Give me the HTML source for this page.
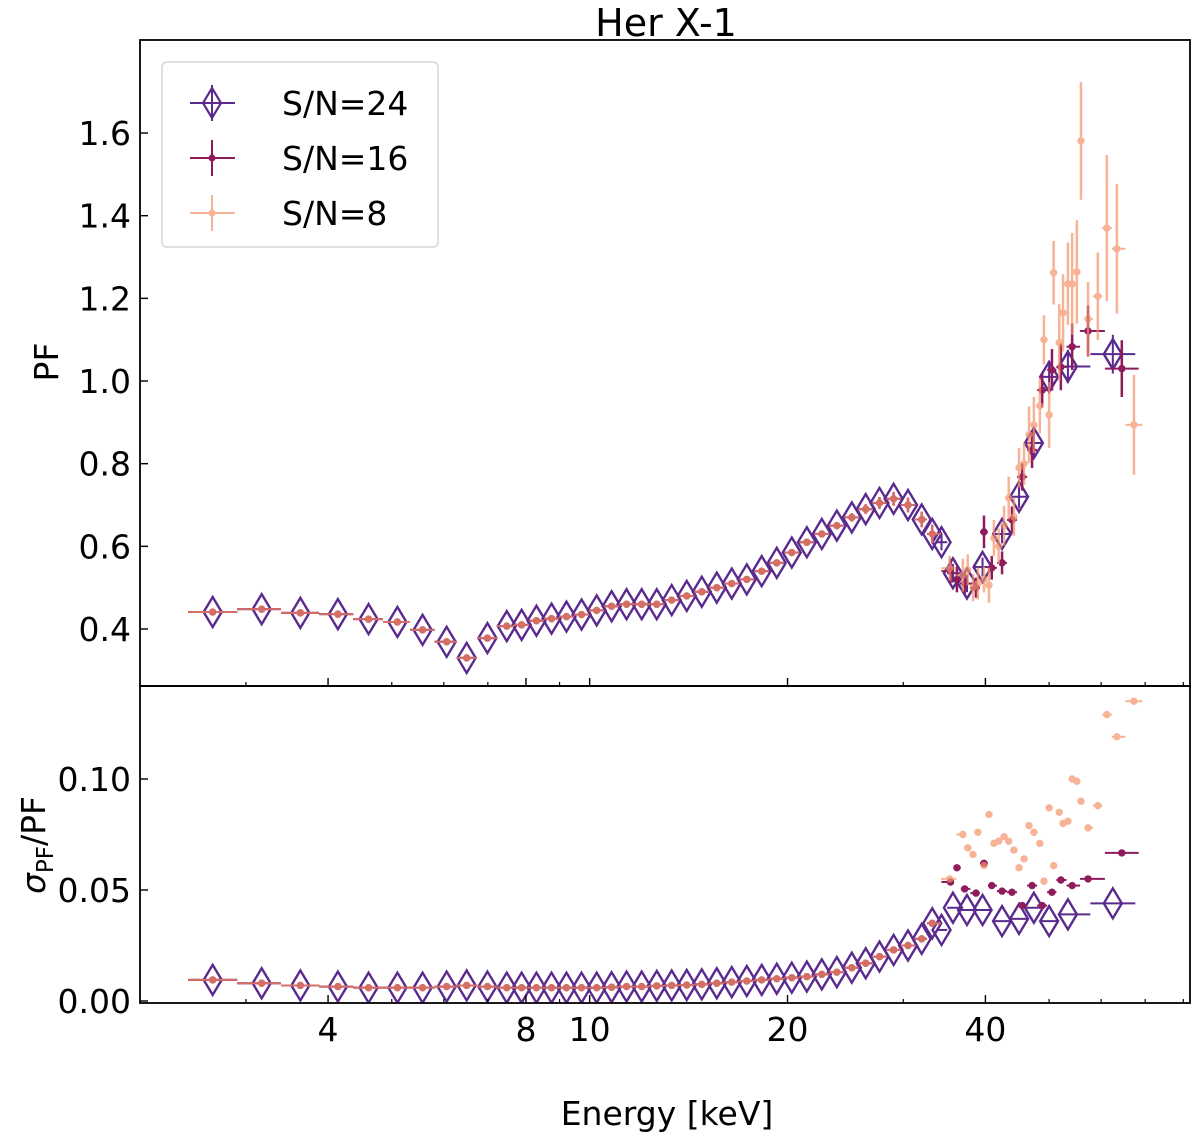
<!DOCTYPE html>
<html><head><meta charset="utf-8"><style>
html,body{margin:0;padding:0;background:#fff;}
svg{display:block;font-family:"DejaVu Sans","Liberation Sans",sans-serif;}
</style></head><body>
<svg id="chart" width="1200" height="1144" xmlns="http://www.w3.org/2000/svg"></svg>
<script>
// ---- data ----
const commonE = [2.67,3.17,3.63,4.14,4.61,5.10,5.57,6.06,6.50,6.99,7.48,7.88,8.30,8.75,9.22,9.72,10.25,10.8,11.38,12.0,12.65,13.33,14.05,14.81,15.61,16.45,17.34,18.27,19.26,20.3,21.4,22.55,23.77,25.05,26.3,27.6,29.0,30.5,32.0,33.2];
const commonPF = [0.441,0.448,0.439,0.436,0.424,0.417,0.398,0.369,0.33,0.378,0.407,0.41,0.42,0.425,0.43,0.435,0.445,0.455,0.46,0.46,0.46,0.47,0.48,0.49,0.50,0.51,0.52,0.54,0.56,0.585,0.61,0.63,0.65,0.67,0.69,0.705,0.715,0.70,0.665,0.63];
const commonRel = [0.0095,0.008,0.007,0.0065,0.006,0.006,0.006,0.0065,0.007,0.0065,0.006,0.006,0.006,0.006,0.006,0.006,0.006,0.0062,0.0065,0.0065,0.0068,0.007,0.0072,0.0075,0.008,0.0085,0.009,0.0095,0.01,0.0105,0.011,0.012,0.013,0.015,0.017,0.02,0.023,0.025,0.028,0.035];
const e24Extra = [34.3,35.7,37.5,39.6,42.4,45.0,47.4,50.0,53.4,62.5];
const pf24Extra = [0.61,0.535,0.51,0.55,0.63,0.72,0.85,1.01,1.035,1.065];
const rel24Extra = [0.032,0.042,0.041,0.041,0.036,0.037,0.042,0.036,0.039,0.044];
const e16Extra = [35.4,36.2,37.2,38.7,39.8,40.9,42.4,43.9,45.5,47.1,48.8,50.5,52.1,54.2,57.3,64.5];
const pf16Extra = [0.54,0.52,0.51,0.50,0.635,0.548,0.56,0.664,0.768,0.833,0.978,1.027,1.034,1.083,1.121,1.03];
const rel16Extra = [0.0536,0.06,0.0505,0.0486,0.062,0.052,0.0495,0.049,0.043,0.052,0.043,0.049,0.0545,0.052,0.055,0.0667];
const e8Extra = [35.3,36.96,37.6,38.3,38.96,39.8,40.5,41.2,41.9,42.7,43.4,44.2,45.0,45.8,46.6,47.4,48.4,49.1,50.0,50.8,51.8,52.5,53.4,54.2,55.1,55.9,57.3,59.3,61.2,63.4,67.3];
const pf8Extra = [0.547,0.53,0.543,0.50,0.51,0.52,0.506,0.62,0.60,0.65,0.717,0.671,0.79,0.80,0.87,0.894,0.94,1.10,0.918,1.262,1.093,1.165,1.235,1.235,1.264,1.581,1.15,1.205,1.37,1.32,0.894];
const rel8Extra = [0.055,0.075,0.069,0.066,0.076,0.061,0.084,0.071,0.072,0.074,0.072,0.068,0.060,0.064,0.079,0.076,0.071,0.054,0.087,0.061,0.085,0.080,0.081,0.100,0.099,0.090,0.078,0.088,0.129,0.119,0.135];
const xTicks = [4,8,10,20,40];
const xMinor = [3,5,6,7,9,30,50,60,70,80];
const pfTicks = [0.4,0.6,0.8,1.0,1.2,1.4,1.6];
const relTicks = [0.00,0.05,0.10];
const seriesNames = ["S/N=24","S/N=16","S/N=8"];

// ---- scales ----
const L=140,R=1190,T1=40,B1=686,T2=686,B2=1003;
const xMin=2.07,xMax=81.9;
function xs(e){return L+(Math.log10(e)-Math.log10(xMin))/(Math.log10(xMax)-Math.log10(xMin))*(R-L);}
function ys1(v){return 629-(v-0.4)*413.3;}
function ys2(v){return 1001-v*2220;}
const NS="http://www.w3.org/2000/svg";
const svg=document.getElementById('chart');
function mk(tag,attrs,parent){const el=document.createElementNS(NS,tag);for(const k in attrs)el.setAttribute(k,attrs[k]);(parent||svg).appendChild(el);return el;}
function edges(E){const lo=[],hi=[];for(let i=0;i<E.length;i++){const p=i>0?Math.sqrt(E[i-1]*E[i]):E[i]*E[i]/Math.sqrt(E[i]*E[i+1]);const n=i<E.length-1?Math.sqrt(E[i]*E[i+1]):E[i]*E[i]/p;lo.push(p);hi.push(n);}return [lo,hi];}

const defs=mk('defs',{});
const c1=mk('clipPath',{id:'c1'},defs);mk('rect',{x:L,y:T1,width:R-L,height:B1-T1},c1);
const c2=mk('clipPath',{id:'c2'},defs);mk('rect',{x:L,y:T2,width:R-L,height:B2-T2},c2);
const g1=mk('g',{'clip-path':'url(#c1)'});


const g2=mk('g',{'clip-path':'url(#c2)'});



const col24='#5a2a8e',col16='#8e1c5c',col8='#f3936a';
function drawSeries(E,PF,REL,kind,name){
  const [lo,hi]=edges(E);
  const col=kind==='d'?col24:(kind==='m'?col16:col8);
  const op=kind==='s'?0.7:1;
  for(const [g,ys,panel] of [[g1,ys1,'pf'],[g2,ys2,'rel']]){
    const sg=mk('g',{opacity:op},g);
    
    
    for(let i=0;i<E.length;i++){
      const x=xs(E[i]);const v=panel==='pf'?PF[i]:REL[i];const y=ys(v);
      mk('line',{x1:xs(lo[i]),x2:xs(hi[i]),y1:y,y2:y,stroke:col,'stroke-width':2},sg);
      if(panel==='pf'){const err=PF[i]*REL[i];mk('line',{x1:x,x2:x,y1:ys(v-err),y2:ys(v+err),stroke:col,'stroke-width':kind==='d'?2:2.5},sg);}
      let m;
      if(kind==='d'){m=mk('polygon',{points:`${x},${y-15} ${x+9},${y} ${x},${y+15} ${x-9},${y}`,fill:'none',stroke:col,'stroke-width':2.4},sg);}
      else{m=mk('circle',{cx:x,cy:y,r:3.7,fill:col},sg);}
      
      
    }
  }
}
drawSeries(commonE.concat(e24Extra),commonPF.concat(pf24Extra),commonRel.concat(rel24Extra),'d','sn24');
drawSeries(commonE.concat(e16Extra),commonPF.concat(pf16Extra),commonRel.concat(rel16Extra),'m','sn16');
drawSeries(commonE.concat(e8Extra),commonPF.concat(pf8Extra),commonRel.concat(rel8Extra),'s','sn8');

const f1=mk('rect',{x:L,y:T1,width:R-L,height:B1-T1,fill:'none',stroke:'#000','stroke-width':1.8});


const f2=mk('rect',{x:L,y:T2,width:R-L,height:B2-T2,fill:'none',stroke:'#000','stroke-width':1.8});



for(const t of xTicks){const x=xs(t);
  mk('line',{x1:x,x2:x,y1:B1,y2:B1-8,stroke:'#000','stroke-width':1.4});
  mk('line',{x1:x,x2:x,y1:B2,y2:B2-8,stroke:'#000','stroke-width':1.4});
  const tx=mk('text',{x:x,y:1041,'font-size':33,'text-anchor':'middle'});tx.textContent=t;
  
  
}
for(const t of xMinor){const x=xs(t);
  mk('line',{x1:x,x2:x,y1:B1,y2:B1-4,stroke:'#000','stroke-width':1.2});
  mk('line',{x1:x,x2:x,y1:B2,y2:B2-4,stroke:'#000','stroke-width':1.2});
}
for(const t of pfTicks){const y=ys1(t);
  mk('line',{x1:L,x2:L+8,y1:y,y2:y,stroke:'#000','stroke-width':1.4});
  const tx=mk('text',{x:131,y:y+12,'font-size':33,'text-anchor':'end'});tx.textContent=t.toFixed(1);
  
  
}
for(const t of relTicks){const y=ys2(t);
  mk('line',{x1:L,x2:L+8,y1:y,y2:y,stroke:'#000','stroke-width':1.4});
  const tx=mk('text',{x:131,y:y+12,'font-size':33,'text-anchor':'end'});tx.textContent=t.toFixed(2);
  
  
}

const lg=mk('g',{});


mk('rect',{x:162,y:62,width:276,height:185,rx:5,fill:'#fff',stroke:'#ccc','stroke-width':1.2},lg);
const lcols=[col24,col16,col8];
seriesNames.forEach((n,i)=>{
  const y=103+i*55;const e=mk('g',{opacity:i===2?0.7:1},lg);
  
  
  mk('line',{x1:190,x2:235,y1:y,y2:y,stroke:lcols[i],'stroke-width':2},e);
  mk('line',{x1:212,x2:212,y1:y-18,y2:y+18,stroke:lcols[i],'stroke-width':2},e);
  if(i===0)mk('polygon',{points:`212,${y-15} 221,${y} 212,${y+15} 203,${y}`,fill:'none',stroke:col24,'stroke-width':2.2},e);
  else mk('circle',{cx:212,cy:y,r:3.5,fill:lcols[i]},e);
  const t=mk('text',{x:282,y:y+12,'font-size':33},lg);t.textContent=n;
  
  
});
</script>
<svg style="position:absolute;left:0;top:0" width="1200" height="1144" xmlns="http://www.w3.org/2000/svg" font-family="DejaVu Sans, Liberation Sans, sans-serif">
<text x="666" y="36" font-size="38" text-anchor="middle">Her X-1</text>
<text transform="translate(58,362) rotate(-90)" font-size="33" text-anchor="middle">PF</text>
<text transform="translate(45,845) rotate(-90)" font-size="33" text-anchor="middle"><tspan font-style="italic">σ</tspan><tspan font-size="23" dy="8">PF</tspan><tspan dy="-8">/PF</tspan></text>
<text x="667" y="1125" font-size="33" text-anchor="middle">Energy [keV]</text>
</svg>
</body></html>
